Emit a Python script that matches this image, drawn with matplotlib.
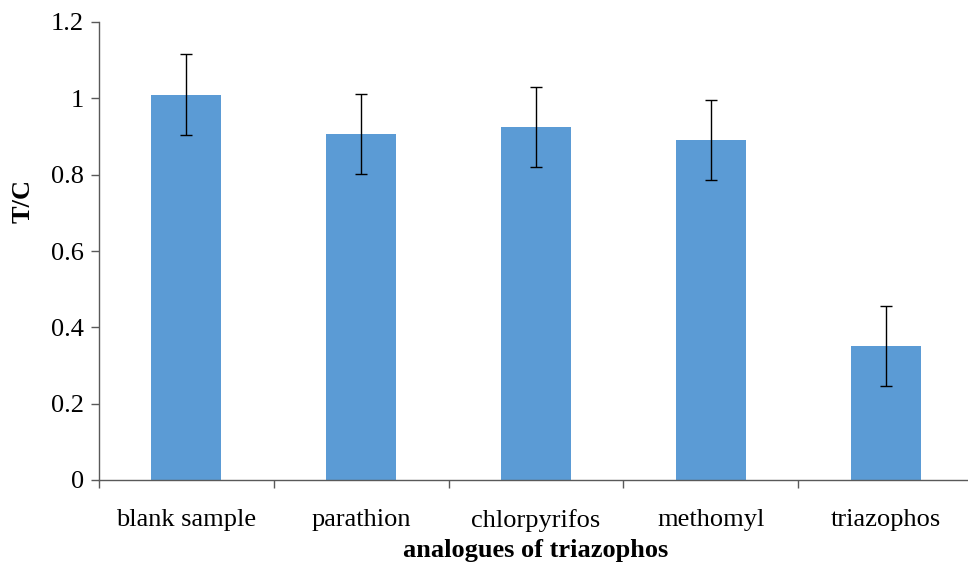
import matplotlib
matplotlib.use("Agg")
import matplotlib.pyplot as plt
import numpy as np

categories = ["blank sample", "parathion", "chlorpyrifos", "methomyl", "triazophos"]
values = [1.010, 0.906, 0.924, 0.890, 0.351]
errors = [0.106, 0.105, 0.105, 0.105, 0.106]
yticks = [0, 0.2, 0.4, 0.6, 0.8, 1, 1.2]
ytick_labels = ["0", "0.2", "0.4", "0.6", "0.8", "1", "1.2"]

plt.rcParams['font.family'] = ['Liberation Serif', 'DejaVu Serif']

W, H = 968, 566
fig = plt.figure(figsize=(W/100, H/100), dpi=100)
left, right, bottom, top = 99, 973, 480, 22
ax = fig.add_axes([left/W, 1 - bottom/H, (right-left)/W, (bottom-top)/H])

x = np.arange(len(categories))
ax.bar(x, values, width=0.4, color="#5B9BD5", zorder=2)
ax.errorbar(x, values, yerr=errors, fmt="none", ecolor="black", elinewidth=1.0,
            capsize=4.5, capthick=1.0, zorder=3)

ax.set_xlim(-0.5, len(categories) - 0.5)
ax.set_ylim(0, 1.2)
ax.set_yticks(yticks)
ax.set_yticklabels(ytick_labels)
ax.set_xticks(x)
ax.set_xticklabels(categories)
ax.set_xticks(np.arange(len(categories) + 1) - 0.5, minor=True)
ax.tick_params(axis='x', which='major', length=0, labelsize=19, pad=21)
ax.tick_params(axis='x', which='minor', length=6, width=1, color="#595959", direction='out')
ax.tick_params(axis='y', length=6, width=1, color="#595959", labelsize=19, pad=5)

for s in ["top", "right"]:
    ax.spines[s].set_visible(False)
for s in ["left", "bottom"]:
    ax.spines[s].set_color("#595959")
    ax.spines[s].set_linewidth(1.0)

fig.text(23/W, 1 - 201/H, "T/C", fontsize=19, fontweight="bold", rotation=90,
         ha="center", va="center")
ax.set_xlabel("analogues of triazophos", fontsize=19, fontweight="bold", labelpad=5)

fig.savefig("out.png", dpi=100)
